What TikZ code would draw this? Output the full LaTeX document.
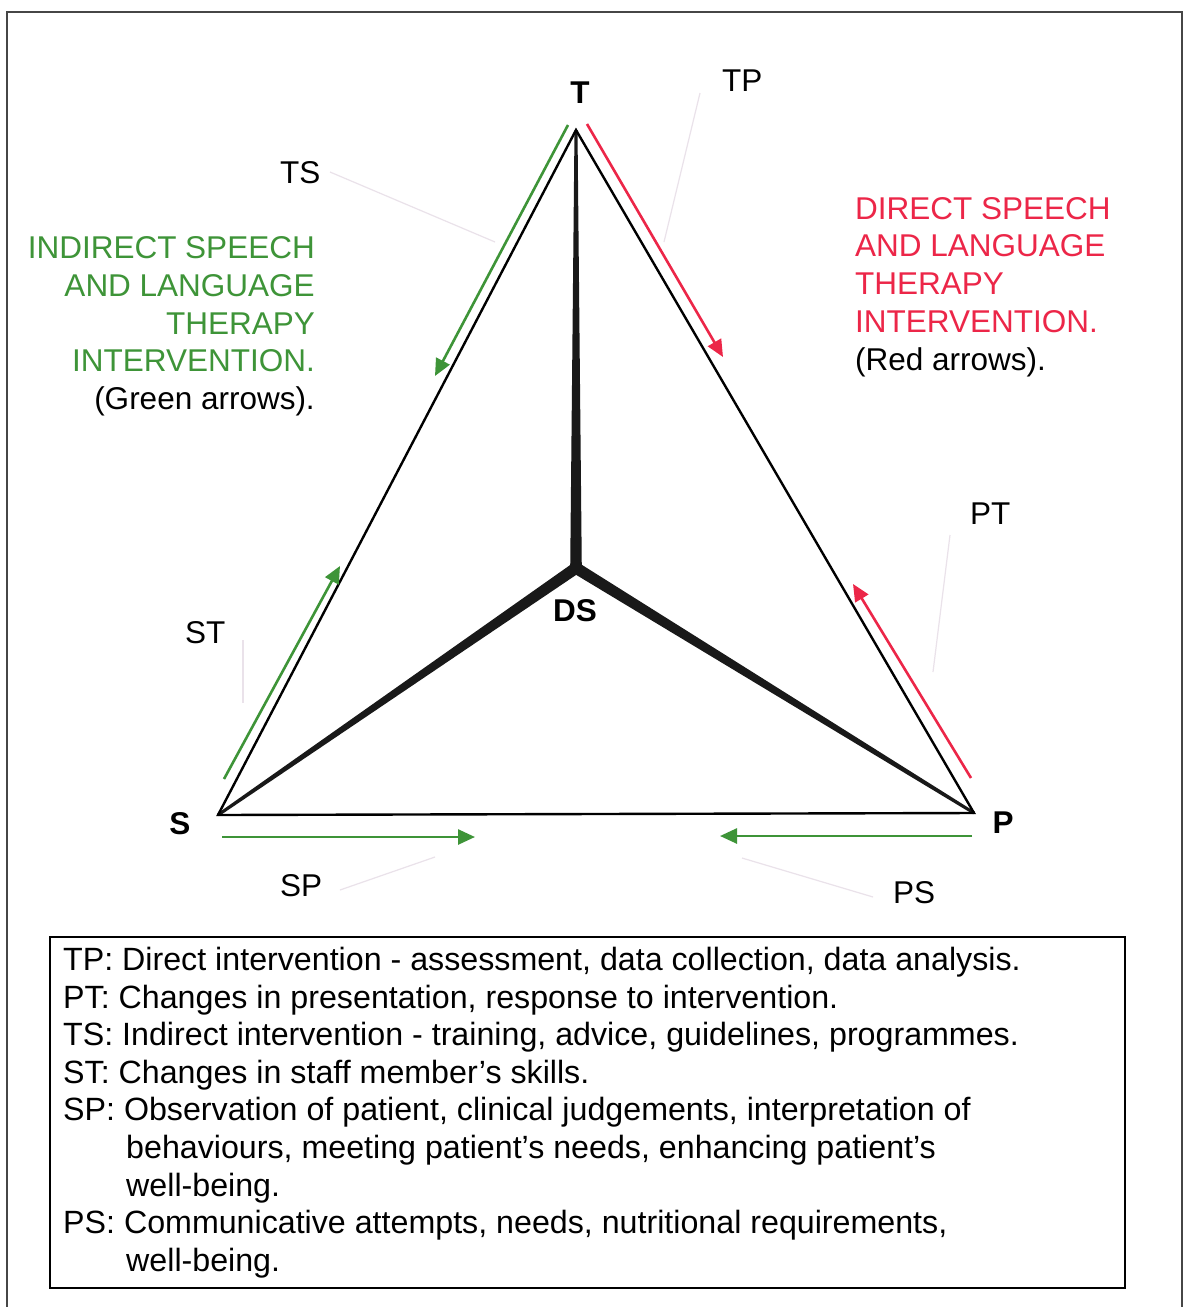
\documentclass[tikz,border=0pt]{standalone}
\usepackage{fontspec}
\setmainfont{Liberation Sans}
\usetikzlibrary{arrows.meta,calc}
\definecolor{arrgreen}{RGB}{62,148,56}
\definecolor{arrred}{RGB}{236,38,72}
\definecolor{ghost}{RGB}{234,226,234}
\definecolor{framegray}{RGB}{70,70,70}
\begin{document}
\begin{tikzpicture}[x=1pt,y=-1pt,
  every node/.style={inner sep=0pt,font=\fontsize{31.5}{37.6}\selectfont},
  lbl/.style={anchor=base west},
  keytext/.style={anchor=base west,font=\fontsize{32.2}{37.6}\selectfont},
  vtxlbl/.style={anchor=base,font=\fontsize{31.5}{37.6}\selectfont\bfseries},
  edgeline/.style={line width=2.4pt,black,line join=miter},
  garrow/.style={arrgreen,line width=2.6pt,-{Triangle[length=17pt,width=15pt]}},
  rarrow/.style={arrred,line width=2.6pt,-{Triangle[length=17pt,width=15pt]}},
  barfill/.style={fill=black!90},
  leader/.style={ghost,line width=1.2pt},
  gtext/.style={anchor=base east,text=arrgreen},
  rtext/.style={anchor=base west,text=arrred}]
\useasboundingbox (0,0) rectangle (1184,1307);
\fill[white] (0,0) rectangle (1184,1307);
% outer frame
\draw[framegray,line width=2pt] (7,1307) -- (7,12) -- (1182,12) -- (1182,1307);

% vertices
\coordinate (T) at (576,130);
\coordinate (S) at (218,815);
\coordinate (P) at (974,813);
\coordinate (DS) at (576,568);

% faint leader lines
\coordinate (lTPa) at (700,93);  \coordinate (lTPb) at (664,242);
\coordinate (lTSa) at (330,172); \coordinate (lTSb) at (495,242);
\coordinate (lPTa) at (950,535); \coordinate (lPTb) at (933,672);
\coordinate (lSTa) at (243,640); \coordinate (lSTb) at (243,703);
\coordinate (lSPa) at (340,890); \coordinate (lSPb) at (435,857);
\coordinate (lPSa) at (742,858); \coordinate (lPSb) at (873,897);
\foreach \a/\b in {lTPa/lTPb,lTSa/lTSb,lPTa/lPTb,lSTa/lSTb,lSPa/lSPb,lPSa/lPSb}
  \draw[leader] (\a) -- (\b);

% tapered bars to DS
\foreach \v in {T,S,P}{
  \fill[barfill] ($(\v)!1.5pt!90:(DS)$) -- ($(DS)!5.8pt!-90:(\v)$) -- ($(DS)!5.8pt!90:(\v)$) -- ($(\v)!1.5pt!-90:(DS)$) -- cycle;
}
\fill[barfill] (DS) circle (5.8pt);

% triangle
\draw[edgeline] (T) -- (S) -- (P) -- cycle;

% arrows
\coordinate (TSa) at (568,125); \coordinate (TSb) at (435,376);
\coordinate (STa) at (224,779); \coordinate (STb) at (340,566);
\coordinate (SPa) at (222,837); \coordinate (SPb) at (475,837);
\coordinate (PSa) at (972,836); \coordinate (PSb) at (720,836);
\coordinate (TPa) at (587,124); \coordinate (TPb) at (723,357);
\coordinate (PTa) at (971,778); \coordinate (PTb) at (853,584);
\draw[garrow] (TSa) -- (TSb);
\draw[garrow] (STa) -- (STb);
\draw[garrow] (SPa) -- (SPb);
\draw[garrow] (PSa) -- (PSb);
\draw[rarrow] (TPa) -- (TPb);
\draw[rarrow] (PTa) -- (PTb);

% vertex labels
\node[vtxlbl] (Tl) at (580,103) {T};
\node[vtxlbl] (Sl) at (180,834) {S};
\node[vtxlbl] (Pl) at (1003,833) {P};
\node[vtxlbl] (DSl) at (575,621) {DS};

% arrow labels
\node[lbl] (TPl) at (722,91) {TP};
\node[lbl] (TSl) at (280,183) {TS};
\node[lbl] (STl) at (185,643) {ST};
\node[lbl] (PTl) at (970,524) {PT};
\node[lbl] (SPl) at (280,896) {SP};
\node[lbl] (PSl) at (893,903) {PS};

% green block
\node[gtext] (g1) at (315,258) {INDIRECT SPEECH};
\node[gtext] (g2) at (315,296) {AND LANGUAGE};
\node[gtext] (g3) at (315,334) {THERAPY};
\node[gtext] (g4) at (315,371) {INTERVENTION.};
\node[anchor=base east] (g5) at (315,409) {(Green arrows).};

% red block
\node[rtext] (r1) at (855,219) {DIRECT SPEECH};
\node[rtext] (r2) at (855,256) {AND LANGUAGE};
\node[rtext] (r3) at (855,294) {THERAPY};
\node[rtext] (r4) at (855,332) {INTERVENTION.};
\node[anchor=base west] (r5) at (855,370) {(Red arrows).};

% legend
\draw[black,line width=1.8pt] (50,937) rectangle (1125,1288);
\node[keytext] (k1) at (63,970) {TP: Direct intervention - assessment, data collection, data analysis.};
\node[keytext] (k2) at (63,1008) {PT: Changes in presentation, response to intervention.};
\node[keytext] (k3) at (63,1045) {TS: Indirect intervention - training, advice, guidelines, programmes.};
\node[keytext] (k4) at (63,1083) {ST: Changes in staff member’s skills.};
\node[keytext] (k5) at (63,1120) {SP: Observation of patient, clinical judgements, interpretation of};
\node[keytext] (k6) at (126,1158) {behaviours, meeting patient’s needs, enhancing patient’s};
\node[keytext] (k7) at (126,1196) {well-being.};
\node[keytext] (k8) at (63,1233) {PS: Communicative attempts, needs, nutritional requirements,};
\node[keytext] (k9) at (126,1271) {well-being.};
\end{tikzpicture}
\end{document}
